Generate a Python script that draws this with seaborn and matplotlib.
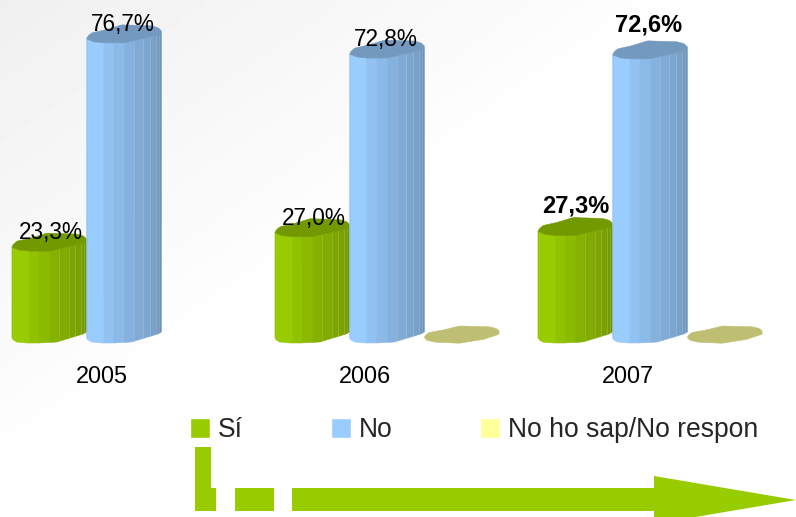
import numpy as np
import pandas as pd
import seaborn as sns
import matplotlib.pyplot as plt
from matplotlib.patches import Polygon, Rectangle

years = ['2005', '2006', '2007']
series = ['Sí', 'No', 'No ho sap/No respon']
si = [23.3, 27.0, 27.3]
no = [76.7, 72.8, 72.6]
nosap = [np.nan, 0.2, 0.2]
si_labels = ['23,3%', '27,0%', '27,3%']
no_labels = ['76,7%', '72,8%', '72,6%']
colors = ['#99cc00', '#99ccff', '#ffff99']

W, H = 796, 517
PX = 3.9  # pixels per percent point
FS = 16.3
FS_LEG = 19.1

sns.set_theme(style='white')
plt.rcParams['font.family'] = ['Liberation Sans', 'DejaVu Sans']

df = pd.DataFrame({
    'year': years * 3,
    'serie': [s for s in series for _ in years],
    'valor': si + no + nosap,
})

fig = plt.figure(figsize=(W / 100, H / 100), dpi=100)

# background, grey top left going white
bg = fig.add_axes([0, 0, 1, 1], zorder=0)
xx, yy = np.meshgrid(np.linspace(0, W, 200), np.linspace(0, H, 130))
g = 0.94 + 0.06 * np.clip(xx / 730 + yy / 500, 0, 1)
bg.imshow(g, cmap='gray', vmin=0, vmax=1, aspect='auto', extent=[0, W, H, 0])
bg.axis('off')

ax = fig.add_axes([0, 0, 1, 1], zorder=1)
ax.patch.set_alpha(0)
sns.barplot(data=df, x='year', y='valor', hue='serie', hue_order=series, order=years,
            palette=colors, width=0.852, gap=0, saturation=1, errorbar=None, ax=ax)
ax.set_xlim(-124 / 263, (W - 124) / 263)
ax.set_ylim(-(H - 338) / PX, 338 / PX)
ax.set(xlabel='', ylabel='')
ax.tick_params(labelbottom=False, labelleft=False, bottom=False, left=False)
sns.despine(ax=ax, left=True, bottom=True)

handles, labels = ax.get_legend_handles_labels()
ax.legend(handles, labels, ncol=3, frameon=False, fontsize=FS_LEG, loc='upper left',
          bbox_to_anchor=(190 / W, 1 - 417 / H), bbox_transform=fig.transFigure,
          borderpad=0, borderaxespad=0, handlelength=0.76, handleheight=0.8,
          handletextpad=0.3, columnspacing=3.3)

# 3d look, built on top of the bars seaborn placed
strips = [0, .02, .23, .36, .51, .63, .76, .85, .93, .97, 1]
strip_f = [.97, 1, .95, .91, .87, .84, .81, .79, .76, .72]
t_bot, off_bot = [0, .02, .06, .2, .35, .6, .95, 1], [0, -2, -4, -5, -5, -4, 4, 6]
t_low, off_low = [0, .03, .1, .24, .5, .9, 1], [0, -1, -3, -4, -4, 3, 5]
t_up, off_up = [0, .02, .07, .25, .47, .87, .96, 1], [0, 3, 6, 9, 14, 13, 11, 8]
t_blob, off_blob = [0, .03, .15, .47, .8, 1], [0, -3, -5, -6, -2, 3]


def shade(col, f):
    return tuple(c * f for c in plt.matplotlib.colors.to_rgb(col))


for i, cont in enumerate(ax.containers):
    col = colors[i]
    for bar in cont:
        h = bar.get_height()
        bar.set_visible(False)
        if np.isnan(h) or h == 0:
            continue
        x0, w = bar.get_x(), bar.get_width()
        z = 2 + i
        if h > 1:
            for j in range(len(strips) - 1):
                t = np.linspace(strips[j], strips[j + 1], 6)
                top = h + np.interp(t, t_low, off_low) / PX
                bot = np.interp(t, t_bot, off_bot) / PX
                xs = np.r_[x0 + t * w, x0 + t[::-1] * w]
                ys = np.r_[top, bot[::-1]]
                ax.fill(xs, ys, color=shade(col, strip_f[j]), lw=0.4, zorder=z)
                if strips[j] > .6:
                    ax.plot([xs[0], xs[0]], [ys[0], ys[-1]], color='white', alpha=.2, lw=.5, zorder=z)
        # cap, the tiny third bar only shows this blob
        t = np.linspace(0, 1, 60)
        if h > 1:
            up = h + np.interp(t, t_up, off_up) / PX
            low = h + np.interp(t, t_low, off_low) / PX
        else:
            up = h + 0.8 * np.interp(t, t_up, off_up) / PX
            low = h + np.interp(t, t_blob, off_blob) / PX
        ax.fill(np.r_[x0 + t * w, x0 + t[::-1] * w], np.r_[up, low[::-1]],
                color=shade(col, .75), lw=0.4, zorder=z + .1)

# value labels, last year goes bold
group_w = 0.852 / 3
for k in range(3):
    bold = k == 2
    si_dx = 0 if bold else 2
    for val, lab, d, dx, dy in [(si[k], si_labels[k], -1, si_dx, 19 if bold else 8),
                                (no[k], no_labels[k], 0, -1, 23 if bold else 8)]:
        ax.annotate(lab, (k + d * group_w, val), xytext=(dx * 0.72, dy * 0.72), textcoords='offset points',
                    ha='center', va='baseline', fontsize=17 if bold else FS, color='black',
                    fontweight='bold' if bold else 'normal', zorder=10)
    ax.annotate(years[k], (k, 0), xytext=(-22.5 * 0.72, -45 * 0.72), textcoords='offset points',
                ha='center', va='baseline', fontsize=16.9, color='black', zorder=10)


# green arrow under the legend, pixel coords
def px(x, y):
    return (x / W, 1 - y / H)


arrow = [(195, 447, 16, 64), (197, 488, 19, 23), (235, 488, 39, 23), (292, 488, 363, 23)]
for x, y, w, h in arrow:
    fig.add_artist(Rectangle(px(x, y + h), w / W, h / H, transform=fig.transFigure,
                             color='#99cc00', lw=0, zorder=5))
fig.add_artist(Polygon([px(654, 476), px(796, 500), px(654, 524)], transform=fig.transFigure,
                       color='#99cc00', lw=0, zorder=5))

plt.savefig('out.png', dpi=100)
